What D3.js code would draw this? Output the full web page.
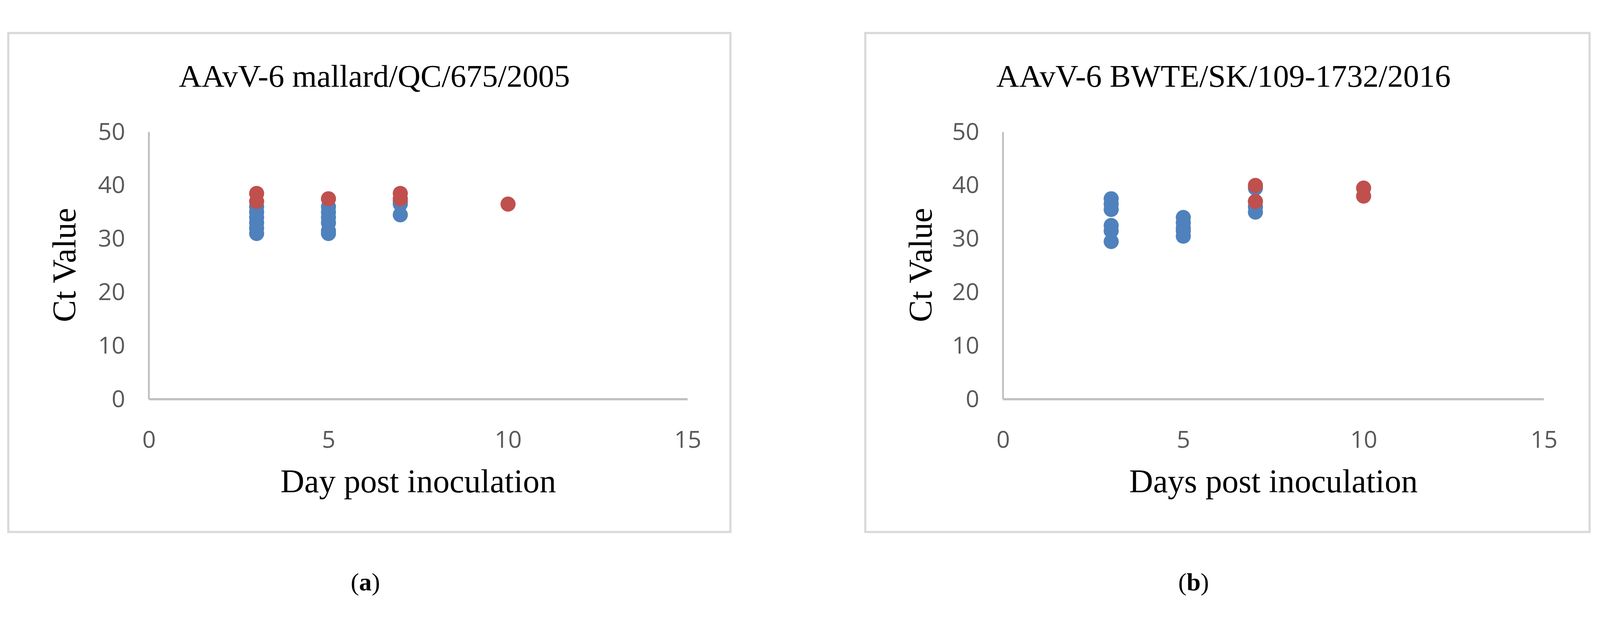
<!DOCTYPE html>
<html><head><meta charset="utf-8">
<script src="https://cdn.jsdelivr.net/npm/d3@7"></script>
<style>html,body{margin:0;background:#fff;overflow:hidden}svg{display:block;width:100vw;height:100vh}</style></head>
<body><svg id="c" viewBox="0 0 4449 1597"></svg>
<script>
const xTicks=[0,5,10,15];
const yTicks=[0,10,20,30,40,50];
const titles=["AAvV-6 mallard/QC/675/2005","AAvV-6 BWTE/SK/109-1732/2016"];
const xLabels=["Day post inoculation","Days post inoculation"];
const panelTags=["a","b"];
const blueA=[[3,31],[3,32],[3,33],[3,34],[3,35],[3,36],[5,31],[5,31.5],[5,33],[5,34],[5,35],[5,36],[7,34.5],[7,36.5],[7,37]];
const redA=[[3,37],[3,38.5],[5,37.5],[7,37.5],[7,38.5],[10,36.5]];
const blueB=[[3,29.5],[3,31.5],[3,32.5],[3,35.5],[3,36.5],[3,37.5],[5,30.5],[5,31.5],[5,32],[5,33],[5,34],[7,35],[7,36],[7,37],[7,39.5]];
const redB=[[7,37],[7,40],[10,38],[10,39.5]];
const panels=[
 {bx:23,bw:2008,x0:414,x1:1912,tx:1041,ax:160,xl:1163,tag:1016,blue:blueA,red:redA},
 {bx:2406,bw:2014,x0:2789,x1:4293,tx:3402,ax:2540,xl:3541,tag:3319,blue:blueB,red:redB}];
const svg=d3.select("#c");
const serif="'Liberation Serif','DejaVu Serif',serif", sans="'Liberation Sans Narrow','Open Sans',sans-serif";
panels.forEach((p,i)=>{
 const g=svg.append("g");
 g.append("rect").attr("x",p.bx).attr("y",23).attr("width",p.bw).attr("height",1387).attr("fill","none").attr("stroke","#d9d9d9").attr("stroke-width",6);
 const x=d3.scaleLinear().domain([0,15]).range([p.x0,p.x1]);
 const y=d3.scaleLinear().domain([0,50]).range([1041,298]);
 g.append("line").attr("x1",p.x0).attr("x2",p.x0).attr("y1",298).attr("y2",1041).attr("stroke","#bfbfbf").attr("stroke-width",5);
 g.append("line").attr("x1",p.x0).attr("x2",p.x1).attr("y1",1041).attr("y2",1041).attr("stroke","#bfbfbf").attr("stroke-width",6);
 const xa=g.append("g").attr("transform","translate(0,1041)").call(d3.axisBottom(x).tickValues(xTicks).tickSize(0).tickPadding(88));
 const ya=g.append("g").attr("transform",`translate(${p.x0},0)`).call(d3.axisLeft(y).tickValues(yTicks).tickSize(0).tickPadding(66));
 [xa,ya].forEach(a=>{a.select(".domain").remove();a.selectAll("text").attr("font-family",sans).attr("font-size",66).attr("fill","#595959");});
 g.append("text").attr("x",p.tx).attr("y",172).attr("text-anchor","middle").attr("font-family",serif).attr("font-size",88).text(titles[i]);
 g.append("text").attr("transform",`translate(${p.ax+50},668) rotate(-90)`).attr("text-anchor","middle").attr("font-family",serif).attr("font-size",92).text("Ct Value");
 g.append("text").attr("x",p.xl).attr("y",1300).attr("text-anchor","middle").attr("font-family",serif).attr("font-size",92).text(xLabels[i]);
 const t=g.append("text").attr("x",p.tag).attr("y",1572).attr("text-anchor","middle").attr("font-family",serif).attr("font-size",70);
 t.append("tspan").text("(");t.append("tspan").attr("font-weight","bold").text(panelTags[i]);t.append("tspan").text(")");
 g.selectAll(".b").data(p.blue).join("circle").attr("cx",d=>x(d[0])).attr("cy",d=>y(d[1])).attr("r",21).attr("fill","#4f81bd");
 g.selectAll(".r").data(p.red).join("circle").attr("cx",d=>x(d[0])).attr("cy",d=>y(d[1])).attr("r",21).attr("fill","#c0504d");
});
</script></body></html>
